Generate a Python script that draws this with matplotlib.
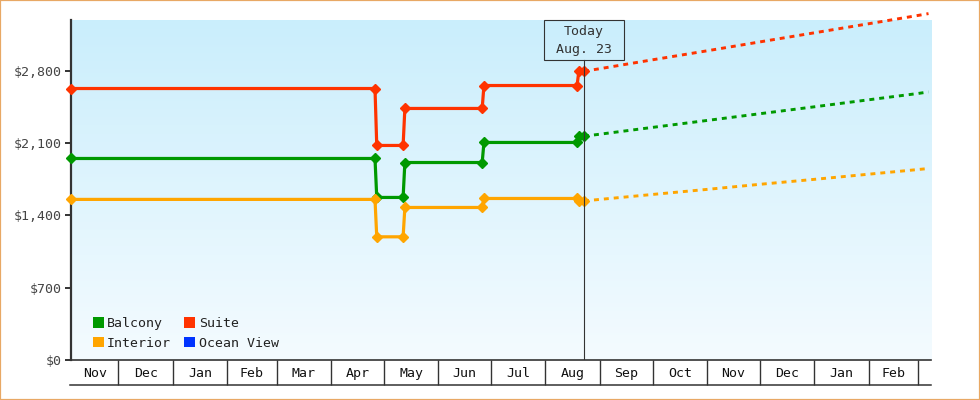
import datetime as dt
import numpy as np
import matplotlib
matplotlib.use('Agg')
import matplotlib.pyplot as plt
import matplotlib.dates as mdates
from matplotlib.patches import Patch, Rectangle
from matplotlib.colors import LinearSegmentedColormap
from matplotlib.ticker import FuncFormatter, NullFormatter

# price history, a change is drawn from the old price to the new one a day later
hist_dates = ['2012-11-04', '2013-04-26', '2013-04-27', '2013-05-12', '2013-05-13',
              '2013-06-26', '2013-06-27', '2013-08-19', '2013-08-20', '2013-08-23']
balcony_hist = [1950, 1950, 1573, 1573, 1911, 1911, 2105, 2105, 2166, 2166]
suite_hist = [2627, 2627, 2076, 2076, 2434, 2434, 2656, 2656, 2794, 2794]
interior_hist = [1554, 1554, 1192, 1192, 1476, 1476, 1563, 1563, 1540, 1540]

# forecast after today
fc_dates = ['2013-08-23', '2013-09-01', '2013-10-01', '2013-11-01', '2013-12-01',
            '2014-01-01', '2014-02-01', '2014-03-01', '2014-03-07']
balcony_fc = [2166, 2185, 2251, 2318, 2383, 2450, 2518, 2579, 2594]
suite_fc = [2794, 2819, 2905, 2992, 3078, 3166, 3254, 3334, 3352]
interior_fc = [1540, 1554, 1602, 1651, 1700, 1748, 1798, 1843, 1853]

today = dt.datetime(2013, 8, 23)
x_start = dt.datetime(2012, 11, 4)
x_end = dt.datetime(2014, 3, 8, 10)
y_ticks = [0, 700, 1400, 2100, 2800]
y_max = 3290

colors = {'Balcony': '#009900', 'Suite': '#FF3300', 'Interior': '#FFA500', 'Ocean View': '#0033FF'}
ink = '#333333'

plt.rcParams['font.family'] = ['DejaVu Sans Mono']
plt.rcParams['font.size'] = 9.5

fig = plt.figure(figsize=(9.8, 4), dpi=100)
ax = fig.add_axes([71 / 980, 40 / 400, 860 / 980, 340 / 400])

hd = [dt.datetime.fromisoformat(d) for d in hist_dates]
fd = [dt.datetime.fromisoformat(d) for d in fc_dates]

for name, h, f in [('Suite', suite_hist, suite_fc),
                   ('Balcony', balcony_hist, balcony_fc),
                   ('Interior', interior_hist, interior_fc)]:
    c = colors[name]
    ax.plot(fd, f, color=c, lw=2.1, linestyle=(0, (1.7, 1.7)), clip_on=False, zorder=3)
    ax.plot(hd, h, color=c, lw=2.3, marker='D', ms=5.0, mew=1.0, mec=c,
            clip_on=False, zorder=4)

ax.set_xlim(x_start, x_end)
ax.set_ylim(0, y_max)

# gradient background
bg = LinearSegmentedColormap.from_list('bg', ['#CAEEFC', '#F4FBFF'])
ax.imshow(np.linspace(0, 1, 256).reshape(-1, 1), cmap=bg, extent=[0, 1, 0, 1],
          transform=ax.transAxes, aspect='auto', zorder=0)
ax.set_xlim(x_start, x_end)
ax.set_ylim(0, y_max)

# today marker
ax.axvline(today, ymin=0, ymax=(360 - 60.3) / 340, color=ink, lw=0.8, zorder=5)
tx = ax.transAxes.inverted().transform(ax.transData.transform((mdates.date2num(today), 0)))[0]
bw = 80 / 860
ax.add_patch(Rectangle((tx - bw / 2, (360 - 60.3) / 340), bw, 40.3 / 340,
                       transform=ax.transAxes, fill=False, edgecolor=ink, lw=0.8,
                       clip_on=False, zorder=5))
ax.text(tx, (360 - 32) / 340, 'Today', transform=ax.transAxes, ha='center', va='center',
        color=ink)
ax.text(tx, (360 - 50) / 340, today.strftime('%b. %d'), transform=ax.transAxes,
        ha='center', va='center', color=ink)

# y axis
ax.set_yticks(y_ticks)
ax.yaxis.set_major_formatter(FuncFormatter(lambda v, p: '${:,.0f}'.format(v)))
ax.tick_params(axis='y', direction='out', length=4.5, width=1.4, color=ink,
               labelcolor='#444444', pad=2)

# x axis: month cells below the plot
month_starts = []
y, m = x_start.year, x_start.month
while True:
    m += 1
    if m > 12:
        y, m = y + 1, 1
    d = dt.datetime(y, m, 1)
    if d >= x_end:
        break
    month_starts.append(d)
x0, x1 = mdates.date2num(x_start), mdates.date2num(x_end)
starts = [mdates.date2num(d) for d in month_starts]
bounds = [x0] + starts + [x1]
centers, labels = [], []
for a, b in zip(bounds[:-1], bounds[1:]):
    if b - a > 15:
        centers.append((a + b) / 2)
        labels.append(mdates.num2date(a + 1).strftime('%b'))
ax.set_xticks(starts)
ax.set_xticks(centers, labels=labels, minor=True)
ax.xaxis.set_major_formatter(NullFormatter())
ax.tick_params(axis='x', which='major', direction='out', length=18, width=1.0, color=ink)
ax.tick_params(axis='x', which='minor', length=0, pad=5, labelcolor='#111111')
ax.plot([-1 / 860, 1], [-25 / 340, -25 / 340], transform=ax.transAxes, color=ink,
        lw=1.1, clip_on=False)

for s in ['top', 'right']:
    ax.spines[s].set_visible(False)
ax.spines['left'].set_color(ink)
ax.spines['left'].set_linewidth(1.6)
ax.spines['bottom'].set_color(ink)
ax.spines['bottom'].set_linewidth(1.2)

# legend
order = ['Balcony', 'Interior', 'Suite', 'Ocean View']
handles = [Patch(facecolor=colors[n], edgecolor='none', label=n) for n in order]
ax.legend(handles=handles, loc='lower left', bbox_to_anchor=(0.025, 0.03),
          ncol=2, frameon=False, handlelength=0.85, handleheight=0.85,
          handletextpad=0.25, columnspacing=1.0, labelspacing=0.5,
          borderpad=0, borderaxespad=0, labelcolor='#222222')

# outer border
fig.patches.append(Rectangle((0, 0), 1, 1, transform=fig.transFigure, fill=False,
                             edgecolor='#E8A865', lw=1.6))

fig.savefig('out.png', dpi=100)
